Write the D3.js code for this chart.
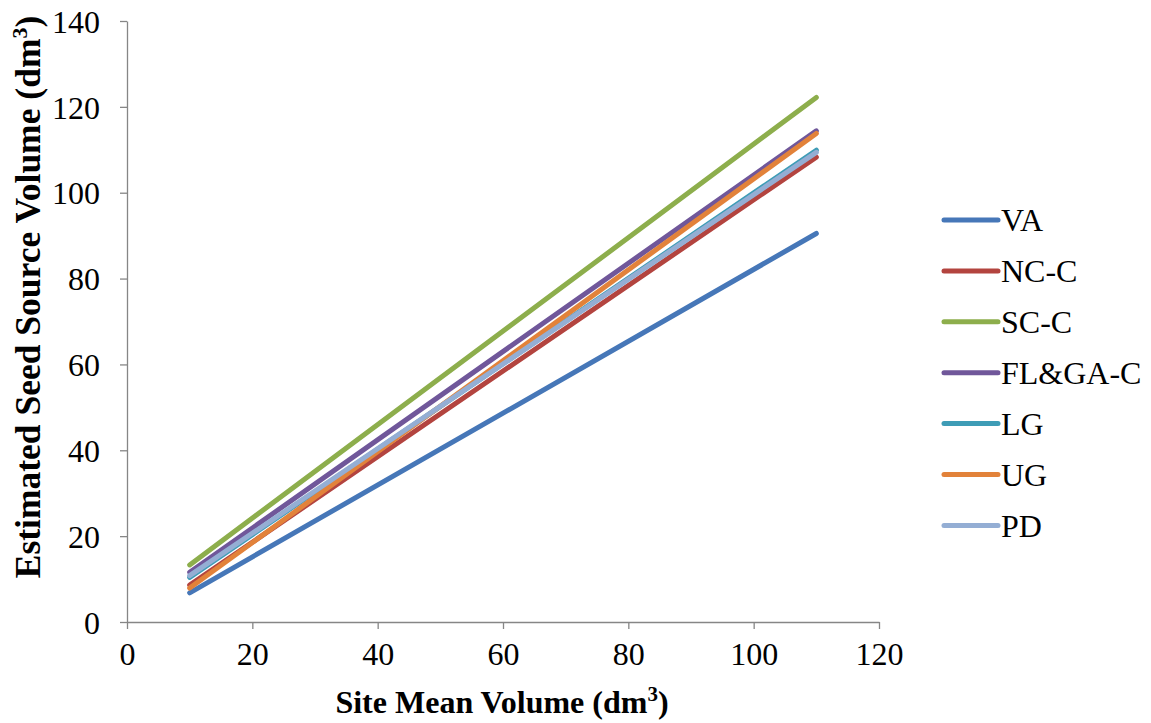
<!DOCTYPE html>
<html><head><meta charset="utf-8">
<script src="https://cdn.jsdelivr.net/npm/d3@7"></script>
<style>body{margin:0;background:#fff}svg{display:block}svg text{font-family:"Liberation Serif","Times New Roman",Times,serif !important}</style>
</head><body>
<script>
const seriesNames = ["VA","NC-C","SC-C","FL&GA-C","LG","UG","PD"];
const xValues = [10, 110];
const vaValues = [6.8, 90.5];
const nccValues = [8.6, 108.3];
const sccValues = [13.3, 122.2];
const flgaValues = [11.6, 114.4];
const lgValues = [10.4, 109.9];
const ugValues = [7.9, 113.8];
const pdValues = [10.8, 109.4];
const xTicks = [0,20,40,60,80,100,120];
const yTicks = [0,20,40,60,80,100,120,140];
const colors = ["#4677B8","#B3443F","#8DAE4C","#70579A","#3E9CB6","#E2823A","#94AED4"];

const allValues = [vaValues,nccValues,sccValues,flgaValues,lgValues,ugValues,pdValues];
const W=1151,H=723;
const svg=d3.select("body").append("svg").attr("width",W).attr("height",H);
const x=d3.scaleLinear().domain([0,120]).range([127,879]);
const y=d3.scaleLinear().domain([0,140]).range([622,21]);
const font="Liberation Serif, Times New Roman, serif";
const axisColor="#868686";
const FS=32;

const xa=svg.append("g").attr("transform","translate(0,622)")
  .call(d3.axisBottom(x).tickValues(xTicks).tickSize(7).tickPadding(12).tickSizeOuter(0));
const ya=svg.append("g").attr("transform","translate(127,0)")
  .call(d3.axisLeft(y).tickValues(yTicks).tickSize(7).tickPadding(20).tickSizeOuter(0));
[xa,ya].forEach(a=>{
  a.attr("font-family",font).attr("font-size",FS);
  a.selectAll("path,line").attr("stroke",axisColor).attr("stroke-width",1.3);
  a.selectAll("text").attr("fill","#000").style("font-size",FS+"px");
});
ya.selectAll("text").attr("dy","0.35em");
xa.selectAll("text").attr("dy","0.75em");

const line=d3.line().x(d=>x(d[0])).y(d=>y(d[1]));
allValues.forEach((vals,i)=>{
  svg.append("path").datum(xValues.map((xv,j)=>[xv,vals[j]]))
    .attr("d",line).attr("fill","none").attr("stroke",colors[i])
    .attr("stroke-width",5).attr("stroke-linecap","round");
});

// legend
const lg=svg.append("g");
seriesNames.forEach((n,i)=>{
  const yy=220+i*50.9;
  lg.append("line").attr("x1",944).attr("x2",998).attr("y1",yy).attr("y2",yy)
    .attr("stroke",colors[i]).attr("stroke-width",5).attr("stroke-linecap","round");
  lg.append("text").attr("x",1001).attr("y",yy).attr("dy","0.35em").text(n)
    .style("font-size",FS+"px").attr("fill","#000");
});

// axis titles
const xt=svg.append("text").attr("x",502).attr("y",713).attr("text-anchor","middle")
  .style("font-size",FS+"px").attr("font-weight","bold");
xt.append("tspan").text("Site Mean Volume (dm");
xt.append("tspan").text("3").attr("dy",-12).style("font-size","21px");
xt.append("tspan").text(")").attr("dy",12);

const yt=svg.append("text").attr("transform","translate(40,297) rotate(-90)").attr("text-anchor","middle")
  .style("font-size","35.5px").attr("font-weight","bold");
yt.append("tspan").text("Estimated Seed Source Volume (dm");
yt.append("tspan").text("3").attr("dy",-13).style("font-size","22px");
yt.append("tspan").text(")").attr("dy",13);
</script>
</body></html>
